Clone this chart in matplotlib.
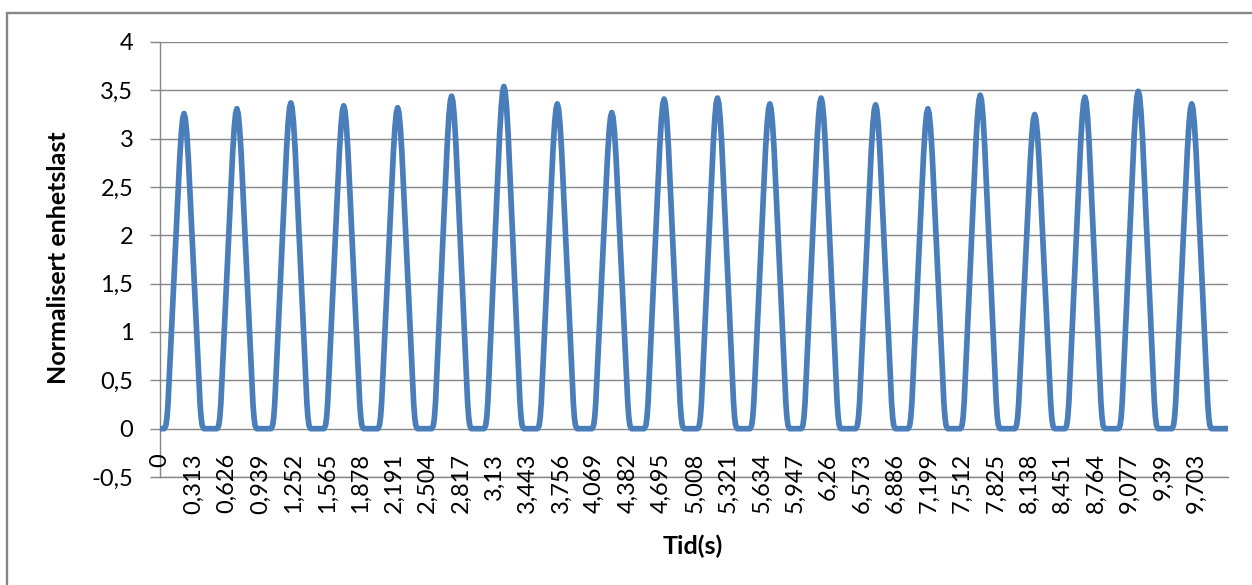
import matplotlib
matplotlib.use("Agg")
import matplotlib.pyplot as plt
from matplotlib.patches import Rectangle
from matplotlib.transforms import blended_transform_factory

plt.rcParams['font.family'] = ['Lato', 'DejaVu Sans']

# Peak time (s) and normalised peak load of each step pulse
peak_times = [0.225, 0.72, 1.225, 1.72, 2.225, 2.73, 3.22, 3.72, 4.23, 4.72,
              5.22, 5.71, 6.19, 6.70, 7.19, 7.68, 8.19, 8.66, 9.16, 9.66]
peak_values = [3.26, 3.31, 3.37, 3.34, 3.32, 3.44, 3.54, 3.36, 3.27, 3.41,
               3.42, 3.36, 3.42, 3.35, 3.31, 3.45, 3.25, 3.43, 3.49, 3.36]

# Pulse profile: offset from the peak (s) and fraction of the peak value
pulse_offsets = [0.185, 0.17, 0.16, 0.15, 0.13, 0.10, 0.08, 0.06, 0.04, 0.025, 0.012, 0.0]
pulse_shape = [0.0, 0.01, 0.035, 0.08, 0.22, 0.435, 0.58, 0.72, 0.86, 0.94, 0.985, 1.0]

t_start, t_end = 0.0, 10.0

# Category labels shown on the time axis
x_labels = ["0", "0,313", "0,626", "0,939", "1,252", "1,565", "1,878", "2,191",
            "2,504", "2,817", "3,13", "3,443", "3,756", "4,069", "4,382", "4,695",
            "5,008", "5,321", "5,634", "5,947", "6,26", "6,573", "6,886", "7,199",
            "7,512", "7,825", "8,138", "8,451", "8,764", "9,077", "9,39", "9,703"]
y_ticks = [-0.5, 0, 0.5, 1, 1.5, 2, 2.5, 3, 3.5, 4]
y_labels = ["-0,5", "0", "0,5", "1", "1,5", "2", "2,5", "3", "3,5", "4"]

# Assemble the load history from the pulses
t = [t_start]
y = [0.0]
for tp, vp in zip(peak_times, peak_values):
    for off, frac in zip(pulse_offsets, pulse_shape):
        t.append(tp - off)
        y.append(vp * frac)
    for off, frac in zip(pulse_offsets[-2::-1], pulse_shape[-2::-1]):
        t.append(tp + off)
        y.append(vp * frac)
t.append(t_end)
y.append(0.0)

W, H = 1252, 585
fig = plt.figure(figsize=(W / 100, H / 100), dpi=100)
ax = fig.add_axes([160 / W, 1 - 477 / H, (1228 - 160) / W, (477 - 42) / H])

grid_col = '#868686'
ax.set_xlim(t_start, t_end)
ax.set_ylim(-0.5, 4)
ax.set_yticks(y_ticks)
ax.set_yticklabels(y_labels, fontsize=17)
ax.grid(axis='y', color=grid_col, linewidth=1.0)
ax.set_axisbelow(True)
ax.tick_params(axis='y', direction='out', length=7.2, width=1.0, color=grid_col,
               pad=12, labelcolor='black')
ax.set_xticks([])
for side in ('top', 'right'):
    ax.spines[side].set_visible(False)
for side in ('left', 'bottom'):
    ax.spines[side].set_color(grid_col)
    ax.spines[side].set_linewidth(1.0)

ax.plot(t, y, color='#4A7EBB', linewidth=4.1, solid_joinstyle='round',
        solid_capstyle='round', zorder=3)

# Rotated category labels along the time axis
trans = blended_transform_factory(ax.transData, ax.transAxes)
for lab in x_labels:
    pos = float(lab.replace(',', '.'))
    ax.text(pos, 0.055, lab, rotation=90, ha='center', va='top',
            fontsize=17, transform=trans, zorder=4)

fig.text(58 / W, 1 - 258 / H, "Normalisert enhetslast", rotation=90,
         ha='center', va='center', fontsize=18, fontweight='bold')
fig.text(693 / W, 1 - 546 / H, "Tid(s)", ha='center', va='center',
         fontsize=18, fontweight='bold')

# Chart area border
fig.patches.append(Rectangle((6.5 / W, -0.1), 1.2, (1 - 12.5 / H) + 0.1,
                             transform=fig.transFigure, fill=False,
                             edgecolor=grid_col, linewidth=1.7))

fig.savefig("out.png", dpi=100)
